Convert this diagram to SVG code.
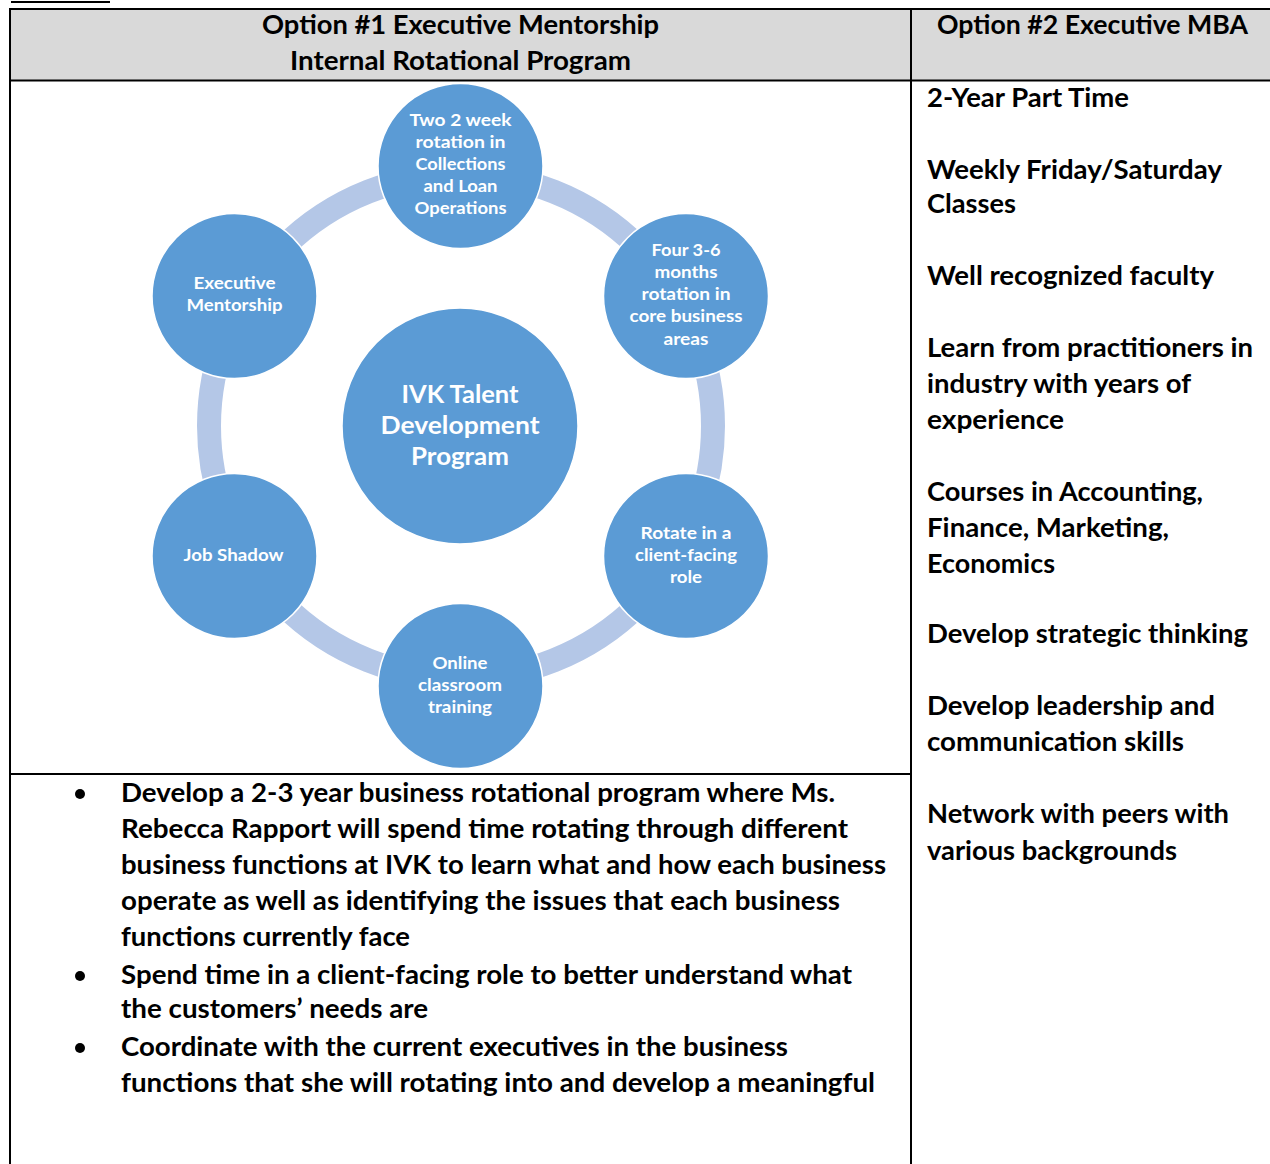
<svg xmlns="http://www.w3.org/2000/svg" width="1270" height="1164" viewBox="0 0 1270 1164">
  <style>
    .txt { font-family: Lato, "Liberation Sans", sans-serif; font-weight: bold; fill: #000; font-size: 26px; }
    .hdr { text-anchor: middle; }
    .node circle { fill: #5b9bd5; stroke: #ffffff; stroke-width: 1.5; }
    .node text { font-family: Lato, "Liberation Sans", sans-serif; font-weight: bold; fill: #ffffff; font-size: 17px; text-anchor: middle; }
    .node.hub text { font-size: 24px; }
    .rule { stroke: #000; stroke-width: 2; fill: none; }
  </style>

  <rect x="0" y="0" width="1270" height="1164" fill="#ffffff"/>

  <!-- header row -->
  <rect x="10" y="9" width="1260" height="71.5" fill="#d9d9d9"/>
  <line class="rule" x1="11" y1="2" x2="110" y2="2"/>

  <!-- table rules -->
  <g id="table">
    <line class="rule" x1="10" y1="9" x2="1270" y2="9"/>
    <line class="rule" x1="10" y1="80.5" x2="1270" y2="80.5"/>
    <line class="rule" x1="10" y1="8" x2="10" y2="1164"/>
    <line class="rule" x1="911" y1="8" x2="911" y2="1164"/>
    <line class="rule" x1="10" y1="774" x2="911" y2="774"/>
  </g>

  <!-- header text -->
  <text class="txt hdr" x="460.5" y="34" textLength="397" lengthAdjust="spacingAndGlyphs">Option #1 Executive Mentorship</text>
  <text class="txt hdr" x="460.5" y="70" textLength="341" lengthAdjust="spacingAndGlyphs">Internal Rotational Program</text>
  <text class="txt hdr" x="1092.5" y="34" textLength="311" lengthAdjust="spacingAndGlyphs">Option #2 Executive MBA</text>

  <!-- ring joining the outer nodes -->
  <g id="connectors">
    <circle cx="461" cy="426" r="252" fill="none" stroke="#b4c7e7" stroke-width="24"/>
  </g>

  <!-- hub -->
  <g id="hub" class="node hub">
    <circle cx="460" cy="426" r="118"/>
    <text x="460" y="403" textLength="117" lengthAdjust="spacingAndGlyphs">IVK Talent</text>
    <text x="460" y="434" textLength="159" lengthAdjust="spacingAndGlyphs">Development</text>
    <text x="460" y="465" textLength="98" lengthAdjust="spacingAndGlyphs">Program</text>
  </g>

  <g id="node-rotation-collections" class="node">
    <circle cx="460.5" cy="166" r="82.5"/>
    <text x="460.5" y="126" textLength="102" lengthAdjust="spacingAndGlyphs">Two 2 week</text>
    <text x="460.5" y="148" textLength="90" lengthAdjust="spacingAndGlyphs">rotation  in</text>
    <text x="460.5" y="170" textLength="90" lengthAdjust="spacingAndGlyphs">Collections</text>
    <text x="460.5" y="192" textLength="74" lengthAdjust="spacingAndGlyphs">and Loan</text>
    <text x="460.5" y="214" textLength="92" lengthAdjust="spacingAndGlyphs">Operations</text>
  </g>

  <g id="node-core-business" class="node">
    <circle cx="686" cy="296" r="82.5"/>
    <text x="686" y="256" textLength="69" lengthAdjust="spacingAndGlyphs">Four 3-6</text>
    <text x="686" y="278" textLength="63" lengthAdjust="spacingAndGlyphs">months</text>
    <text x="686" y="300" textLength="89" lengthAdjust="spacingAndGlyphs">rotation  in</text>
    <text x="686" y="322" textLength="113" lengthAdjust="spacingAndGlyphs">core business</text>
    <text x="686" y="345" textLength="45" lengthAdjust="spacingAndGlyphs">areas</text>
  </g>

  <g id="node-client-facing" class="node">
    <circle cx="686" cy="556" r="82.5"/>
    <text x="686" y="539" textLength="91" lengthAdjust="spacingAndGlyphs">Rotate in a</text>
    <text x="686" y="561" textLength="102" lengthAdjust="spacingAndGlyphs">client-facing</text>
    <text x="686" y="583" textLength="32" lengthAdjust="spacingAndGlyphs">role</text>
  </g>

  <g id="node-online-training" class="node">
    <circle cx="460.5" cy="686" r="82.5"/>
    <text x="460" y="669" textLength="55" lengthAdjust="spacingAndGlyphs">Online</text>
    <text x="460" y="691" textLength="84" lengthAdjust="spacingAndGlyphs">classroom</text>
    <text x="460" y="713" textLength="64" lengthAdjust="spacingAndGlyphs">training</text>
  </g>

  <g id="node-job-shadow" class="node">
    <circle cx="234.5" cy="556" r="82.5"/>
    <text x="233.5" y="561" textLength="100" lengthAdjust="spacingAndGlyphs">Job Shadow</text>
  </g>

  <g id="node-executive-mentorship" class="node">
    <circle cx="234.5" cy="296" r="82.5"/>
    <text x="234.5" y="289" textLength="82" lengthAdjust="spacingAndGlyphs">Executive</text>
    <text x="234.5" y="311" textLength="96" lengthAdjust="spacingAndGlyphs">Mentorship</text>
  </g>

  <!-- option 1 details -->
  <g id="option1-notes">
    <circle cx="80" cy="794" r="5"/>
    <circle cx="80" cy="976" r="5"/>
    <circle cx="80" cy="1048" r="5"/>
    <text class="txt" x="121" y="802" textLength="714" lengthAdjust="spacingAndGlyphs">Develop a 2-3 year business rotational program where Ms.</text>
    <text class="txt" x="121" y="838" textLength="727" lengthAdjust="spacingAndGlyphs">Rebecca Rapport  will spend time rotating through different</text>
    <text class="txt" x="121" y="874" textLength="765" lengthAdjust="spacingAndGlyphs">business functions at IVK to learn what and how each business</text>
    <text class="txt" x="121" y="910" textLength="719" lengthAdjust="spacingAndGlyphs">operate as  well as identifying the issues that each business</text>
    <text class="txt" x="121" y="946" textLength="289" lengthAdjust="spacingAndGlyphs">functions currently face</text>
    <text class="txt" x="121" y="984" textLength="731" lengthAdjust="spacingAndGlyphs">Spend time in a client-facing role to better understand what</text>
    <text class="txt" x="121" y="1018" textLength="307" lengthAdjust="spacingAndGlyphs">the customers’ needs are</text>
    <text class="txt" x="121" y="1056" textLength="667" lengthAdjust="spacingAndGlyphs">Coordinate with the current executives in the business</text>
    <text class="txt" x="121" y="1092" textLength="754" lengthAdjust="spacingAndGlyphs">functions that she will rotating into and develop a meaningful</text>
  </g>

  <!-- option 2 details -->
  <g id="option2-notes">
    <text class="txt" x="927" y="107" textLength="202" lengthAdjust="spacingAndGlyphs">2-Year Part Time</text>
    <text class="txt" x="927" y="179" textLength="295" lengthAdjust="spacingAndGlyphs">Weekly Friday/Saturday</text>
    <text class="txt" x="927" y="213" textLength="89" lengthAdjust="spacingAndGlyphs">Classes</text>
    <text class="txt" x="927" y="285" textLength="287" lengthAdjust="spacingAndGlyphs">Well recognized faculty</text>
    <text class="txt" x="927" y="357" textLength="326" lengthAdjust="spacingAndGlyphs">Learn from practitioners in</text>
    <text class="txt" x="927" y="393" textLength="264" lengthAdjust="spacingAndGlyphs">industry with years of</text>
    <text class="txt" x="927" y="429" textLength="137" lengthAdjust="spacingAndGlyphs">experience</text>
    <text class="txt" x="927" y="501" textLength="276" lengthAdjust="spacingAndGlyphs">Courses in Accounting,</text>
    <text class="txt" x="927" y="537" textLength="242" lengthAdjust="spacingAndGlyphs">Finance, Marketing,</text>
    <text class="txt" x="927" y="573" textLength="128" lengthAdjust="spacingAndGlyphs">Economics</text>
    <text class="txt" x="927" y="643" textLength="321" lengthAdjust="spacingAndGlyphs">Develop strategic thinking</text>
    <text class="txt" x="927" y="715" textLength="288" lengthAdjust="spacingAndGlyphs">Develop leadership and</text>
    <text class="txt" x="927" y="751" textLength="257" lengthAdjust="spacingAndGlyphs">communication skills</text>
    <text class="txt" x="927" y="823" textLength="302" lengthAdjust="spacingAndGlyphs">Network with peers with</text>
    <text class="txt" x="927" y="860" textLength="250" lengthAdjust="spacingAndGlyphs">various backgrounds</text>
  </g>
</svg>
